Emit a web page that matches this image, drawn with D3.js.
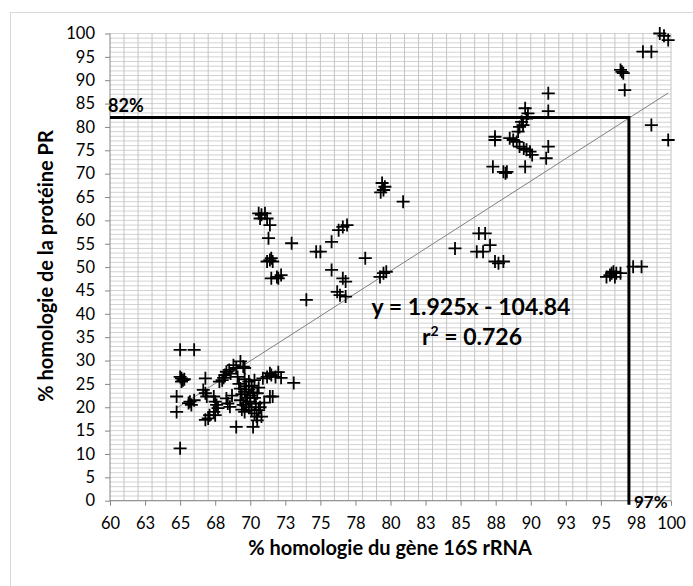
<!DOCTYPE html>
<html>
<head>
<meta charset="utf-8">
<script src="https://cdn.jsdelivr.net/npm/d3@7"></script>
<style>
  html, body { margin: 0; padding: 0; background: #fff; }
  svg { display: block; }
  text { font-family: Lato, "Open Sans", sans-serif; fill: #000; }
</style>
</head>
<body>
<svg id="chart" width="693" height="586"></svg>
<script>
// ---- data ----
const rrna16S = [
  65.0, 66.0, 65.0, 65.1, 65.2, 65.1, 65.3, 64.75, 64.75, 65.0,
  65.7, 65.8, 65.6, 66.0, 66.8, 66.65, 66.8, 66.9, 66.8, 67.0,
  67.1, 67.4, 67.5, 67.6, 67.7, 67.4, 67.5, 67.8, 68.0, 68.1,
  68.2, 68.3, 68.5, 68.6, 68.8, 69.0, 69.3, 69.5, 69.6, 68.3,
  68.4, 68.55, 68.7, 69.0, 70.2, 69.1, 69.2, 69.3, 69.4, 69.3,
  69.5, 69.4, 69.6, 69.7, 69.6, 69.8, 69.7, 69.6, 69.9, 69.9,
  70.0, 69.9, 70.0, 70.1, 70.2, 70.1, 70.3, 70.3, 70.4, 70.3,
  70.45, 70.5, 70.6, 70.6, 70.5, 70.9, 71.2, 71.4, 71.5, 71.8,
  72.0, 72.2, 71.4, 71.6, 71.0, 73.1, 70.7, 70.8,
  70.6, 70.8, 71.05, 70.7, 71.2, 71.4, 71.3, 72.95, 74.7, 75.0,
  75.8, 76.3, 76.6, 76.9, 71.2, 71.4, 71.5, 71.6, 71.5, 71.9,
  72.0, 72.2, 74.0, 75.8, 76.6, 76.8, 76.2, 76.4, 76.8, 78.2,
  79.25, 79.5, 79.7, 79.3, 79.5, 79.4, 79.6, 80.9,
  91.25, 91.25, 89.6, 89.8, 89.7, 89.35, 89.45, 89.2, 89.1, 87.45,
  87.45, 88.5, 88.75, 89.0, 89.2, 89.5, 89.7, 89.95, 90.1, 91.25,
  91.1, 87.3, 88.05, 88.3, 88.2, 89.6, 84.6, 86.3, 86.75, 87.1,
  86.15, 86.6, 87.45, 87.7, 88.05,
  96.7, 96.4, 96.5, 96.6, 98.0, 98.6, 99.2, 99.8, 99.5, 98.6, 99.8,
  95.4, 95.65, 95.77, 95.9, 96.0, 96.1, 96.4, 97.3, 97.9
];
const proteinPR = [
  32.3, 32.3, 26.5, 26.2, 25.8, 25.5, 26.0, 22.3, 19.0, 11.2,
  21.2, 20.5, 20.9, 21.5, 26.2, 23.7, 23.0, 22.3, 17.3, 17.6,
  18.3, 22.3, 21.2, 20.5, 19.8, 19.0, 18.3, 25.5, 25.8, 26.3,
  26.9, 27.6, 28.0, 27.2, 29.0, 28.4, 29.8, 28.7, 28.4, 21.9,
  20.8, 20.1, 22.5, 15.8, 15.8, 26.5, 25.0, 24.0, 22.8, 21.5,
  20.5, 19.5, 26.0, 24.5, 23.3, 22.0, 21.0, 19.0, 25.5, 23.8,
  22.5, 20.0, 21.2, 24.6, 23.2, 19.4, 25.8, 22.0, 20.8, 18.7,
  18.0, 17.2, 19.4, 24.2, 23.0, 26.2, 26.5, 27.3, 26.9, 26.5,
  27.5, 26.3, 22.3, 22.3, 21.0, 25.2, 20.0, 18.0,
  61.5, 61.2, 61.5, 60.4, 60.4, 59.0, 56.2, 55.1, 53.3, 53.3,
  55.4, 57.9, 58.6, 59.0, 51.2, 51.5, 51.9, 51.2, 47.6, 47.9,
  47.6, 48.3, 43.0, 49.4, 47.6, 46.9, 44.7, 44.0, 43.7, 51.9,
  47.9, 48.7, 49.0, 66.0, 66.5, 68.0, 67.2, 64.0,
  87.2, 83.4, 84.0, 82.9, 81.8, 81.1, 80.4, 80.0, 79.0, 77.9,
  77.2, 77.6, 77.2, 76.8, 75.8, 75.4, 75.1, 74.7, 74.0, 75.8,
  73.3, 71.5, 70.4, 70.4, 70.1, 71.5, 54.0, 57.2, 57.2, 54.7,
  53.3, 53.3, 51.2, 50.8, 51.2,
  87.9, 92.2, 91.8, 91.5, 96.1, 96.1, 100.0, 98.6, 99.5, 80.4, 77.2,
  47.9, 48.3, 48.7, 49.0, 47.9, 48.7, 48.7, 50.1, 50.1
];
const xTickValues = [60, 62.5, 65, 67.5, 70, 72.5, 75, 77.5, 80, 82.5, 85, 87.5, 90, 92.5, 95, 97.5, 100];
const xTickLabels = ["60", "63", "65", "68", "70", "73", "75", "78", "80", "83", "85", "88", "90", "93", "95", "98", "100"];
const yTickValues = [0, 5, 10, 15, 20, 25, 30, 35, 40, 45, 50, 55, 60, 65, 70, 75, 80, 85, 90, 95, 100];
const trendSlope = 1.925, trendIntercept = -104.84;
const thresholdPR = 82, threshold16S = 97;
const xTitle = "% homologie du gène 16S rRNA";
const yTitle = "% homologie de la protéine PR";
const eqText = "y = 1.925x - 104.84";

// ---- drawing ----
const svg = d3.select("#chart");
const x = d3.scaleLinear().domain([60, 100]).range([110, 671]);
const y = d3.scaleLinear().domain([0, 100]).range([500.7, 33.5]);

// chart border
svg.append("rect").attr("x", 10.5).attr("y", 12.5).attr("width", 720).attr("height", 620)
  .attr("fill", "#fff").attr("stroke", "#d9d9d9").attr("stroke-width", 1);

// gridlines
const grid = svg.append("g");
grid.selectAll("line.h").data(d3.range(0, 101, 1)).join("line")
  .attr("x1", x(60)).attr("x2", x(100))
  .attr("y1", d => y(d)).attr("y2", d => y(d))
  .attr("stroke", "#d2d2d2").attr("stroke-width", 1);
grid.selectAll("line.v").data(d3.range(61, 101, 1)).join("line")
  .attr("y1", y(0)).attr("y2", y(100))
  .attr("x1", d => x(d)).attr("x2", d => x(d))
  .attr("stroke", "#c4c4c4").attr("stroke-width", 1);

// axes
const xAxis = d3.axisBottom(x).tickValues(xTickValues)
  .tickFormat((d, i) => xTickLabels[i]).tickSize(5).tickPadding(12);
const gx = svg.append("g").attr("transform", `translate(0,${y(0)})`).call(xAxis);
const yAxis = d3.axisLeft(y).tickValues(yTickValues).tickSize(5).tickPadding(10);
const gy = svg.append("g").attr("transform", `translate(${x(60)},0)`).call(yAxis);
[gx, gy].forEach(g => {
  g.select(".domain").attr("stroke", "#868686");
  g.selectAll(".tick line").attr("stroke", "#868686");
  g.selectAll(".tick text").attr("font-family", "Lato, sans-serif").attr("font-size", 16.5).attr("fill", "#111");
});
gy.select(".domain").attr("d", `M-0,${y(0)}V${y(100)}`);
gx.select(".domain").attr("d", `M${x(60)},0H${x(100)}`);

// trendline
const xExt = d3.extent(rrna16S);
svg.append("line")
  .attr("x1", x(xExt[0])).attr("y1", y(trendSlope * xExt[0] + trendIntercept))
  .attr("x2", x(xExt[1])).attr("y2", y(trendSlope * xExt[1] + trendIntercept))
  .attr("stroke", "#808080").attr("stroke-width", 1);

// threshold lines
svg.append("path")
  .attr("d", `M${x(60)},${y(thresholdPR)}H${x(threshold16S)}V${y(0) + 4}`)
  .attr("fill", "none").attr("stroke", "#000").attr("stroke-width", 3);

// markers
const pts = rrna16S.map((v, i) => [v, proteinPR[i]]);
const s = 6.5;
svg.append("g").selectAll("path").data(pts).join("path")
  .attr("d", d => `M${x(d[0]) - s},${y(d[1])}h${2 * s}M${x(d[0])},${y(d[1]) - s}v${2 * s}`)
  .attr("stroke", "#000").attr("stroke-width", 1.8).attr("fill", "none");

// annotations
svg.append("text").attr("x", 108).attr("y", 112).attr("font-weight", "bold").attr("font-size", 18).text("82%");
svg.append("text").attr("x", 634).attr("y", 508).attr("font-weight", "bold").attr("font-size", 17).text("97%");
svg.append("text").attr("x", 471).attr("y", 315).attr("text-anchor", "middle")
  .attr("font-weight", "bold").attr("font-size", 23).text(eqText);
const r2 = svg.append("text").attr("x", 472).attr("y", 345).attr("text-anchor", "middle")
  .attr("font-weight", "bold").attr("font-size", 23);
r2.append("tspan").text("r");
r2.append("tspan").attr("font-size", 14).attr("dy", -9).text("2");
r2.append("tspan").attr("dy", 9).text(" = 0.726");

// axis titles
svg.append("text").attr("x", 390).attr("y", 555).attr("text-anchor", "middle")
  .attr("font-weight", "bold").attr("font-size", 20).text(xTitle);
svg.append("text").attr("transform", `translate(53,266) rotate(-90)`).attr("text-anchor", "middle")
  .attr("font-weight", "bold").attr("font-size", 20).text(yTitle);
</script>
</body>
</html>
